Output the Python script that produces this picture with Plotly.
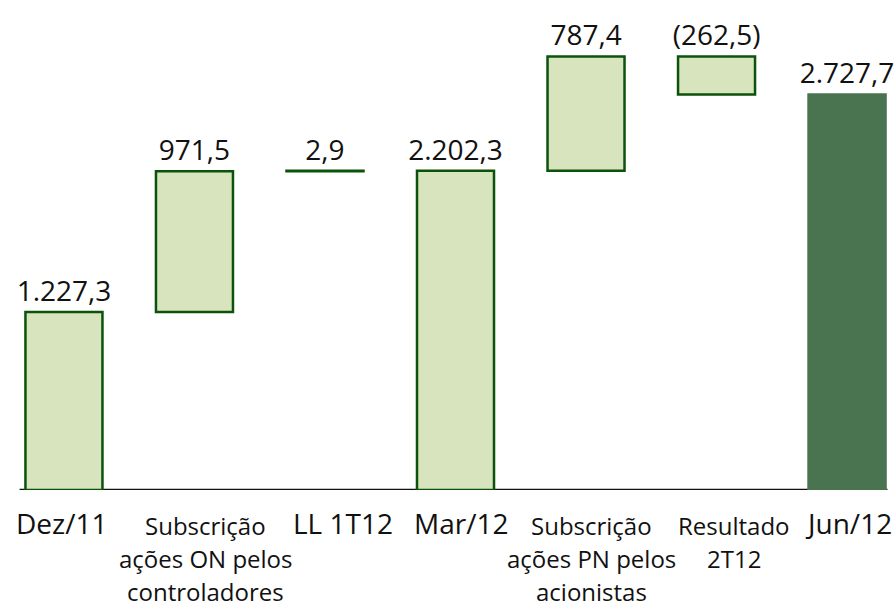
import plotly.graph_objects as go

# data (R$ milhões) – waterfall Dez/11 -> Jun/12
categories = ["Dez/11", "Subscrição<br>ações ON pelos<br>controladores", "LL 1T12", "Mar/12",
              "Subscrição<br>ações PN pelos<br>acionistas", "Resultado<br>2T12", "Jun/12"]
values = [1227.3, 971.5, 2.9, 2202.3, 787.4, -262.5, 2727.7]
measure = ["absolute", "relative", "relative", "absolute", "relative", "relative", "absolute"]

LIGHT = "#D7E4BD"
EDGE = "#0B520B"
DARK = "#4A7350"
INK = "#111111"
FONT = "Open Sans, sans-serif"


def br(v):
    s = f"{abs(v):,.1f}".replace(",", "X").replace(".", ",").replace("X", ".")
    return f"({s})" if v < 0 else s


# bar base / length from running total
bases, lengths = [], []
run = 0.0
for v, m in zip(values, measure):
    if m == "absolute":
        bases.append(0)
        lengths.append(v)
        run = v
    else:
        bases.append(run if v > 0 else run + v)
        lengths.append(abs(v))
        run += v

xs = list(range(len(categories)))
fills = [LIGHT] * (len(values) - 1) + [DARK]
edges = [EDGE] * (len(values) - 1) + [DARK]

fig = go.Figure(go.Bar(
    x=xs, y=lengths, base=bases, width=0.59,
    marker=dict(color=fills, line=dict(color=edges, width=2.5)),
    text=[br(v) for v in values], textposition="outside", constraintext="none",
    cliponaxis=False, textfont=dict(size=28, color=INK, family=FONT),
    hoverinfo="skip"))

# axis line at zero
fig.add_shape(type="line", xref="x", yref="y", x0=-0.34, x1=6.31, y0=0, y1=0,
              line=dict(color=INK, width=2.5), layer="below")

# category labels, one annotation per line so the line pitch matches the slide
dx = [-2, 11, 18, 5, 5, 17, 1]
for i, lab in enumerate(categories):
    lines = lab.split("<br>")
    multi = len(lines) > 1
    for k, ln in enumerate(lines):
        fig.add_annotation(text=ln, x=i, xref="x", y=0, yref="paper", yanchor="middle",
                           yshift=-(35 + 33 * k) if multi else -33, xshift=dx[i],
                           showarrow=False,
                           font=dict(size=24 if multi else 28, color=INK, family=FONT))

fig.update_xaxes(visible=False, range=[-0.49, 6.375])
fig.update_yaxes(visible=False, range=[0, 3379])
fig.update_layout(width=896, height=608, margin=dict(l=0, r=0, t=0, b=118),
                  paper_bgcolor="white", plot_bgcolor="white", showlegend=False,
                  font=dict(family=FONT))

fig.write_html("out.html", config={"displayModeBar": False},
               post_script="document.body.style.margin='0';")
